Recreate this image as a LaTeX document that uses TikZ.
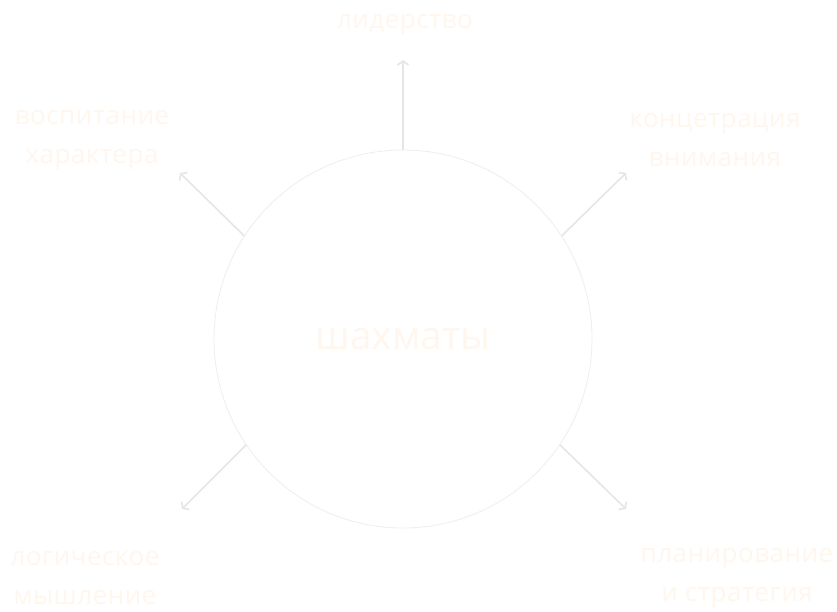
\documentclass[tikz,border=0pt]{standalone}
\usepackage{fontspec}
\setmainfont{Open Sans}
\usepackage{tikz}
\usetikzlibrary{arrows.meta,positioning}
\definecolor{cream}{HTML}{FFF7EE}
\definecolor{ring}{HTML}{EEEEEE}
\definecolor{ray}{HTML}{E6E6E6}
\tikzset{
  >={Straight Barb[length=4pt,width=11pt]},
  hub/.style={circle,draw=ring,line width=0.8pt,minimum size=378pt,inner sep=0pt,
    font=\fontsize{39}{40}\selectfont,text=cream},
  lab/.style={font=\fontsize{26}{39}\selectfont\addfontfeatures{LetterSpace=2},text=cream,align=center},
  arr/.style={->,draw=ray,line width=1.6pt},
}
\begin{document}
\begin{tikzpicture}[x=1pt,y=-1pt]
\useasboundingbox[fill=white] (0,0) rectangle (837,611);
\node[hub] (chess) at (403,339) {шахматы};
% labels
\node[lab] (lead) at (405,25) {лидерство};
\node[lab] (chr) at (92,140) {воспитание\\характера};
\node[lab] (conc) at (715,140) {концетрация\\внимания};
\node[lab] (logic) at (85,578) {логическое\\мышление};
\node[lab] (plan) at (737,578) {планирование\\и стратегия};
% arrow tips
\coordinate (tN) at (403,60);
\coordinate (tNE) at (626,173);
\coordinate (tNW) at (180,173);
\coordinate (tSW) at (182,509);
\coordinate (tSE) at (626,509);
\draw[arr] (chess.90) -- (tN);
\draw[arr] (chess.33) -- (tNE);
\draw[arr] (chess.147) -- (tNW);
\draw[arr] (chess.214) -- (tSW);
\draw[arr] (chess.326) -- (tSE);
\end{tikzpicture}
\end{document}
